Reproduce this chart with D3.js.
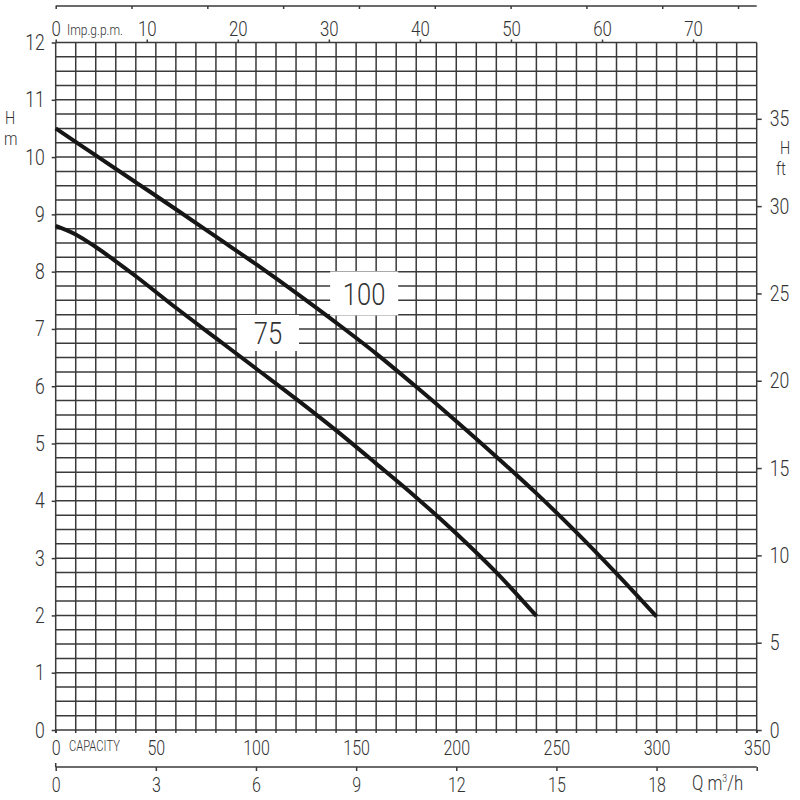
<!DOCTYPE html>
<html>
<head>
<meta charset="utf-8">
<script src="https://cdn.jsdelivr.net/npm/d3@7"></script>
<style>
  body { margin: 0; background: #fff; }
  svg text { font-family: Roboto, "DejaVu Sans Condensed", sans-serif; font-weight: 300; fill: #333; }
</style>
</head>
<body>
<svg id="chart" width="800" height="800"></svg>
<script>
// pump curves, flow in l/min, head in m
var q100 = [0, 20, 40, 60, 80, 100, 120, 140, 160, 180, 200, 220, 240, 260, 280, 300];
var h100 = [10.5, 10.03, 9.56, 9.09, 8.61, 8.13, 7.63, 7.11, 6.57, 5.99, 5.39, 4.77, 4.13, 3.45, 2.73, 1.98];
var q75 = [0, 10, 20, 30, 40, 60, 80, 100, 120, 140, 160, 180, 200, 220, 240];
var h75 = [8.8, 8.65, 8.43, 8.18, 7.92, 7.37, 6.84, 6.31, 5.78, 5.23, 4.65, 4.06, 3.43, 2.75, 1.99];

// tick labels
var headM = [0, 1, 2, 3, 4, 5, 6, 7, 8, 9, 10, 11, 12];
var headFt = [0, 5, 10, 15, 20, 25, 30, 35];
var flowLpm = [0, 50, 100, 150, 200, 250, 300, 350];
var flowM3h = [0, 3, 6, 9, 12, 15, 18];
var flowImp = [0, 10, 20, 30, 40, 50, 60, 70];
var flowUs = [10, 20, 30, 40, 50, 60, 70, 80, 90];

var svg = d3.select("#chart");

var x = d3.scaleLinear().domain([0, 350]).range([55.7, 756.7]);
var y = d3.scaleLinear().domain([0, 12]).range([730, 42.5]);
var yFt = d3.scaleLinear().domain([0, 12 / 0.3048]).range(y.range());
var xM3h = d3.scaleLinear().domain([0, 21]).range(x.range());
var xImp = d3.scaleLinear().domain([0, 350 * 0.219969]).range(x.range());
var xUs = d3.scaleLinear().domain([0, 350 / 3.78541]).range(x.range());

var gridColor = "#3a3a3a";
var squeeze = 0.8;

// narrow the lettering like the drawing's stencil font
function condense(sel) {
  sel.each(function() {
    var t = d3.select(this);
    var x0 = +t.attr("x") || 0;
    t.attr("x", x0 / squeeze).attr("transform", "scale(" + squeeze + ",1)");
  });
}

// grid
var grid = svg.append("g").attr("stroke", gridColor).attr("stroke-width", 1.5);
grid.selectAll("line.v")
  .data(d3.range(0, 351, 10))
  .enter().append("line")
    .attr("x1", function(d) { return x(d); })
    .attr("x2", function(d) { return x(d); })
    .attr("y1", y(12))
    .attr("y2", y(0) + 3);
grid.selectAll("line.h")
  .data(d3.range(0, 12.01, 0.25))
  .enter().append("line")
    .attr("x1", x(0))
    .attr("x2", x(350))
    .attr("y1", function(d) { return y(d); })
    .attr("y2", function(d) { return y(d); });

function styleAxis(g, size) {
  g.select(".domain").remove();
  g.selectAll(".tick line").attr("stroke", gridColor).attr("stroke-width", 1.5);
  g.selectAll("text").attr("font-size", size).attr("fill", "#333").call(condense);
}

// left axis (m)
svg.append("g")
    .attr("transform", "translate(" + x(0) + ",0)")
    .call(d3.axisLeft(y).tickValues(headM).tickSize(4).tickPadding(7))
    .call(styleAxis, 22);

// right axis (ft)
svg.append("g")
    .attr("transform", "translate(" + x(350) + ",0)")
    .call(d3.axisRight(yFt).tickValues(headFt).tickSize(5).tickPadding(8))
    .call(styleAxis, 22);

// bottom axis (l/min)
svg.append("g")
    .attr("transform", "translate(0," + y(0) + ")")
    .call(d3.axisBottom(x).tickValues(flowLpm).tickSize(3).tickPadding(8))
    .call(styleAxis, 20);

// top axis (Imp. g.p.m.)
svg.append("g")
    .attr("transform", "translate(0," + y(12) + ")")
    .call(d3.axisTop(xImp).tickValues(flowImp).tickSize(3).tickPadding(4))
    .call(styleAxis, 21);

// second bottom axis (m3/h)
var m3 = svg.append("g").attr("transform", "translate(0,767)");
m3.append("line")
    .attr("x1", x(0)).attr("x2", x(350))
    .attr("stroke", gridColor).attr("stroke-width", 1.5);
m3.call(d3.axisBottom(xM3h).tickValues(flowM3h.concat([21])).tickSize(4).tickPadding(7)
      .tickFormat(function(d) { return d === 21 ? "" : d; }))
  .call(styleAxis, 20);
m3.append("line")
    .attr("x1", x(0)).attr("x2", x(0)).attr("y1", -4).attr("y2", 0)
    .attr("stroke", gridColor).attr("stroke-width", 1.5);

// top line (US gpm, unlabeled)
var us = svg.append("g").attr("transform", "translate(0,6)");
us.append("line")
    .attr("x1", x(0)).attr("x2", x(350))
    .attr("stroke", gridColor).attr("stroke-width", 1.5);
us.call(d3.axisBottom(xUs).tickValues([0].concat(flowUs)).tickSize(3).tickFormat(""))
  .call(styleAxis, 10);

// axis titles
var titles = svg.append("g");
titles.append("text").attr("x", 5).attr("y", 124).attr("font-size", 18).text("H");
titles.append("text").attr("x", 4).attr("y", 145).attr("font-size", 19).text("m");
titles.append("text").attr("x", 780).attr("y", 154).attr("font-size", 18).text("H");
titles.append("text").attr("x", 776).attr("y", 175).attr("font-size", 19).text("ft");
titles.append("text").attr("x", 67).attr("y", 35).attr("font-size", 15).attr("font-weight", 400).text("Imp.g.p.m.");
titles.append("text").attr("x", 69).attr("y", 751).attr("font-size", 14).attr("font-weight", 400).text("CAPACITY");
var qLabel = titles.append("text").attr("x", 692).attr("y", 790).attr("font-size", 21);
qLabel.append("tspan").text("Q  m");
qLabel.append("tspan").attr("font-size", 11).attr("dy", -8).text("3");
qLabel.append("tspan").attr("dy", 8).text("/h");
titles.selectAll("text").call(condense);

// curves
var line = d3.line()
    .x(function(d) { return x(d[0]); })
    .y(function(d) { return y(d[1]); })
    .curve(d3.curveMonotoneX);

var curves = [
  {name: "100", pts: d3.zip(q100, h100)},
  {name: "75", pts: d3.zip(q75, h75)}
];

svg.selectAll("path.curve")
  .data(curves)
  .enter().append("path")
    .attr("class", "curve")
    .attr("d", function(d) { return line(d.pts); })
    .attr("fill", "none")
    .attr("stroke", "#161616")
    .attr("stroke-width", 4);

// curve labels on white patches
var labels = [
  {text: "100", q: 154, h: 7.62, w: 68, hgt: 44},
  {text: "75", q: 106, h: 6.93, w: 62, hgt: 36}
];
var lab = svg.selectAll("g.lab")
  .data(labels)
  .enter().append("g")
    .attr("transform", function(d) { return "translate(" + x(d.q) + "," + y(d.h) + ")"; });
lab.append("rect")
    .attr("x", function(d) { return -d.w / 2; })
    .attr("y", function(d) { return -d.hgt / 2; })
    .attr("width", function(d) { return d.w; })
    .attr("height", function(d) { return d.hgt; })
    .attr("fill", "#fff");
lab.append("text")
    .attr("text-anchor", "middle")
    .attr("dy", "0.36em")
    .attr("font-size", 32)
    .text(function(d) { return d.text; })
    .call(condense);
</script>
</body>
</html>
